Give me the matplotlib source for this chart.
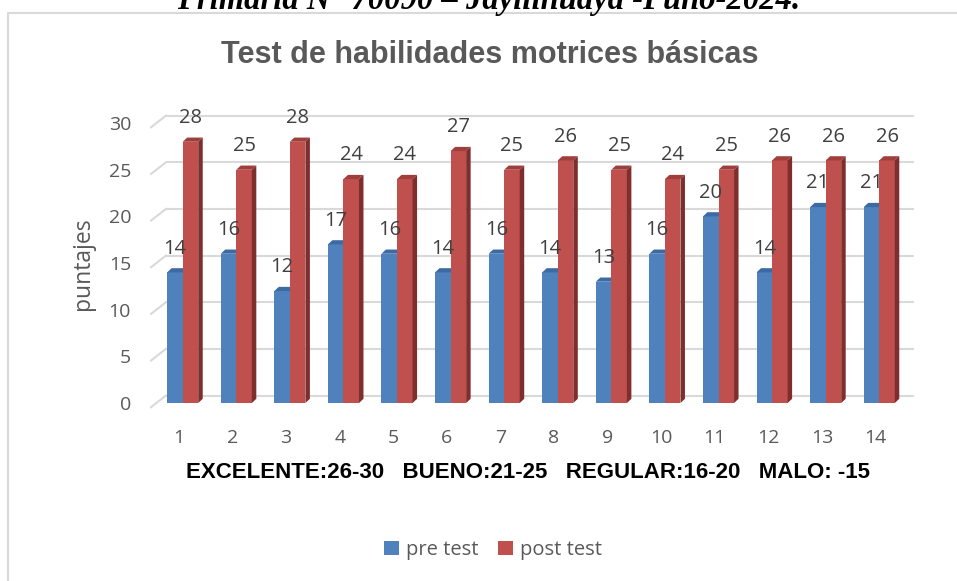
import matplotlib
matplotlib.use("Agg")
import matplotlib.pyplot as plt
from matplotlib.patches import Polygon, Rectangle
import numpy as np

# ---- data ----
categories = ["1", "2", "3", "4", "5", "6", "7", "8", "9", "10", "11", "12", "13", "14"]
pre_test = [14, 16, 12, 17, 16, 14, 16, 14, 13, 16, 20, 14, 21, 21]
post_test = [28, 25, 28, 24, 24, 27, 25, 26, 25, 24, 25, 26, 26, 26]
y_ticks = [0, 5, 10, 15, 20, 25, 30]
series_names = ["pre test", "post test"]
title = "Test de habilidades motrices básicas"
ylabel = "puntajes"
scale_note = "EXCELENTE:26-30   BUENO:21-25   REGULAR:16-20   MALO: -15"
top_caption = "Primaria N° 70090 – Jayllihuaya -Puno-2024."

# ---- style ----
BLUE = "#4F81BD"; BLUE_TOP = "#3C6AA3"
RED = "#C0504D"; RED_TOP = "#9E3F3C"; RED_SIDE = "#7E2E2C"
GRID = "#D9D9D9"
TXT = "#595959"; LBL = "#404040"
SANS = ["Open Sans", "DejaVu Sans"]
BOLD = ["Liberation Sans", "DejaVu Sans"]

W, H = 957, 581
fig = plt.figure(figsize=(W / 100, H / 100), dpi=100)

# axes placement in pixels
L, R, T, B = 150, 920, 100, 420
ax = fig.add_axes([L / W, 1 - B / H, (R - L) / W, (B - T) / H])
px_per_cat = 53.58
px_per_unit = 9.33
x0px, y0px = 182.7, 403
ax.set_xlim(1 + (L - x0px) / px_per_cat, 1 + (R - x0px) / px_per_cat)
ax.set_ylim((y0px - B) / px_per_unit, (y0px - T) / px_per_unit)
ax.axis("off")

bw = 0.29           # bar width (category units)
dx = 4.5 / px_per_cat   # depth offset x
dy = 4.2 / px_per_unit  # depth offset y
back = 7.5 / px_per_unit  # back wall offset

xs = np.arange(1, len(categories) + 1)

# gridlines (back wall + left floor slant)
gx0 = 1 + (166 - x0px) / px_per_cat
gx1 = 1 + (914 - x0px) / px_per_cat
fx = 1 + (151 - x0px) / px_per_cat
for v in y_ticks:
    ax.plot([gx0, gx1], [v + back, v + back], color=GRID, lw=1.5, zorder=1,
            solid_capstyle="butt")
    ax.plot([fx, gx0], [v - 0.45, v + back], color=GRID, lw=1.5, zorder=1)
    ax.text(1 + (131 - x0px) / px_per_cat, v - 0.2, str(v), ha="right", va="center",
            fontsize=14, color=TXT, family=SANS)


def bar3d(x_left, val, front, top, side=None, z=3):
    ax.add_patch(Polygon([[x_left, 0], [x_left + bw, 0], [x_left + bw, val], [x_left, val]],
                         closed=True, facecolor=front, edgecolor="none", zorder=z))
    ax.add_patch(Polygon([[x_left, val], [x_left + bw, val], [x_left + bw + dx, val + dy],
                          [x_left + dx, val + dy]], closed=True, facecolor=top,
                         edgecolor="none", zorder=z))
    if side is not None:
        ax.add_patch(Polygon([[x_left + bw, 0], [x_left + bw, val], [x_left + bw + dx, val + dy],
                              [x_left + bw + dx, dy]], closed=True, facecolor=side,
                             edgecolor="none", zorder=z))


for i, x in enumerate(xs):
    bar3d(x - bw, pre_test[i], BLUE, BLUE_TOP, None, z=3)
    bar3d(x, post_test[i], RED, RED_TOP, RED_SIDE, z=4)
    ax.annotate(str(pre_test[i]), (x - bw / 2, pre_test[i]), xytext=(0, 17),
                textcoords="offset points", ha="center", va="center",
                fontsize=14.5, color=LBL, family=SANS, zorder=6)
    ax.annotate(str(post_test[i]), (x + bw / 2, post_test[i]), xytext=(0, 17),
                textcoords="offset points", ha="center", va="center",
                fontsize=14.5, color=LBL, family=SANS, zorder=6)
    ax.text(x - 0.07, -3.75, categories[i], ha="center", va="center",
            fontsize=14, color=TXT, family=SANS)

# y label
fig.text(83 / W, 1 - 264 / H, ylabel, rotation=90, ha="center", va="center",
         fontsize=16.5, color=TXT, family=SANS)

# title
fig.text(490 / W, 1 - 55 / H, title, ha="center", va="center", fontsize=22,
         fontweight="bold", color=TXT, family=BOLD)

# scale note
fig.text(528 / W, 1 - 473 / H, scale_note, ha="center", va="center", fontsize=16,
         fontweight="bold", color="black", family=BOLD)

# legend
handles = [Rectangle((0, 0), 1, 1, facecolor=BLUE), Rectangle((0, 0), 1, 1, facecolor=RED)]
fig.legend(handles, series_names, loc="center", bbox_to_anchor=(493 / W, 1 - 550 / H),
           ncol=2, frameon=False, handlelength=0.75, handleheight=0.75, handletextpad=0.35,
           columnspacing=1.0, prop={"family": SANS, "size": 14.5}, labelcolor=TXT)

# chart border
fig.patches.append(Rectangle((8 / W, -0.02), 1.0, (H - 13) / H + 0.02, transform=fig.transFigure,
                             fill=False, edgecolor=GRID, lw=1.5))

# cropped caption at top (cut by the page edge in the reference)
fig.text(489 / W, 1 - 9 / H, top_caption, ha="center", va="baseline", fontsize=23.5,
         fontweight="bold", style="italic", color="black",
         family=["Liberation Serif", "DejaVu Serif"])

fig.savefig("out.png", dpi=100)
